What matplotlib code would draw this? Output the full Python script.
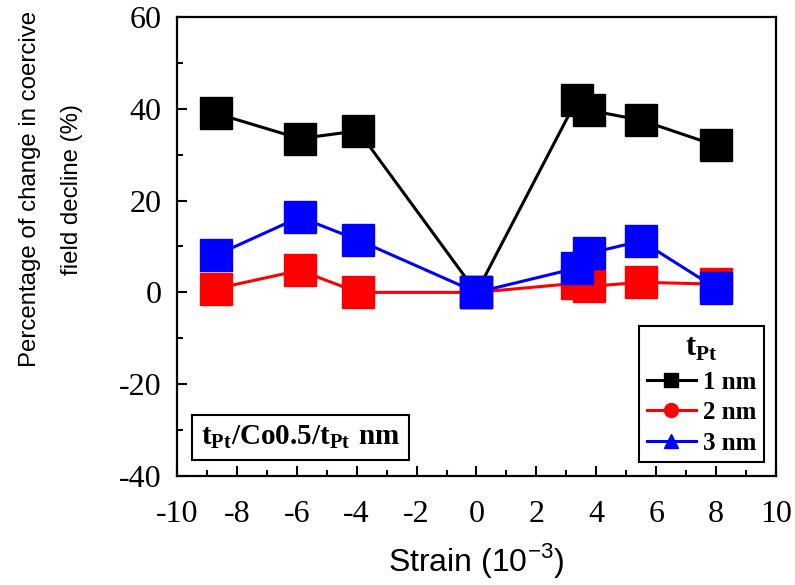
import matplotlib
matplotlib.use("Agg")
from matplotlib import pyplot as plt
from matplotlib.lines import Line2D
from matplotlib.ticker import MultipleLocator

plt.rcParams['axes.unicode_minus'] = False
plt.rcParams['mathtext.fontset'] = 'custom'
plt.rcParams['mathtext.rm'] = 'Liberation Serif'
plt.rcParams['mathtext.bf'] = 'Liberation Serif:bold'
plt.rcParams['mathtext.sf'] = 'Liberation Sans'

strain = [-8.7, -5.9, -3.95, 0, 3.35, 3.75, 5.5, 8.0]
decline_1nm = [39.0, 33.5, 35.2, 0, 42.0, 39.7, 37.5, 32.0]
decline_2nm = [0.8, 4.8, 0.0, 0, 2.0, 1.3, 2.2, 1.8]
decline_3nm = [8.1, 16.4, 11.4, 0, 5.3, 8.5, 11.2, 0.9]
labels = ["1 nm", "2 nm", "3 nm"]
colors = ["black", "red", "blue"]
legend_markers = ["s", "o", "^"]

fig = plt.figure(figsize=(7.95, 5.85), dpi=100)
ax = fig.add_axes([0.2226, 0.1863, 0.7535, 0.7847])

for yv, c in zip([decline_1nm, decline_2nm, decline_3nm], colors):
    ax.plot(strain, yv, color=c, lw=2.2, marker="s", ms=23, mec=c, mfc=c)

ax.set_xlim(-10, 10)
ax.set_ylim(-40, 60)
ax.xaxis.set_major_locator(MultipleLocator(2))
ax.xaxis.set_minor_locator(MultipleLocator(1))
ax.yaxis.set_major_locator(MultipleLocator(20))
ax.yaxis.set_minor_locator(MultipleLocator(10))
ax.tick_params(which="both", direction="in", width=1.5, top=False, right=False)
ax.tick_params(which="major", length=7, labelsize=23)
ax.tick_params(axis="x", which="major", pad=17)
ax.tick_params(axis="y", which="major", pad=11)
ax.tick_params(which="minor", length=4)
for lab in ax.get_xticklabels() + ax.get_yticklabels():
    lab.set_family("Liberation Serif")
for s in ax.spines.values():
    s.set_linewidth(1.6)

ax.set_xlabel("Strain (10$^{\\mathsf{-3}}$)", fontsize=23, family="Liberation Sans", labelpad=9)
ax.set_ylabel("Percentage of change in coercive\nfield decline (%)", fontsize=17.3,
              family="Liberation Sans", linespacing=2.2, va="center", ha="center")
ax.yaxis.set_label_coords(-0.21, 0.625)

handles = [Line2D([], [], color=c, lw=2.2, marker=m, ms=10) for c, m in zip(colors, legend_markers)]
leg = ax.legend(handles, labels, title="$\\mathbf{t}_{\\mathbf{Pt}}$", loc="lower right",
                bbox_to_anchor=(0.98, 0.03), fancybox=False, edgecolor="black", framealpha=1,
                prop={"family": "Liberation Serif", "weight": "bold", "size": 18},
                title_fontsize=22, handlelength=1.95, handletextpad=0.3, labelspacing=0.3,
                borderpad=0.3, borderaxespad=0)
leg.get_frame().set_linewidth(1.5)

ax.text(0.04, 0.084, "$\\mathbf{t}_{\\mathbf{Pt}}\\mathbf{/Co0.5/t}_{\\mathbf{Pt}}\\mathbf{\\ nm}$",
        transform=ax.transAxes, fontsize=21, va="center", ha="left",
        bbox=dict(boxstyle="square,pad=0.3", fc="white", ec="black", lw=1.5))

fig.savefig("out.png", dpi=100)
